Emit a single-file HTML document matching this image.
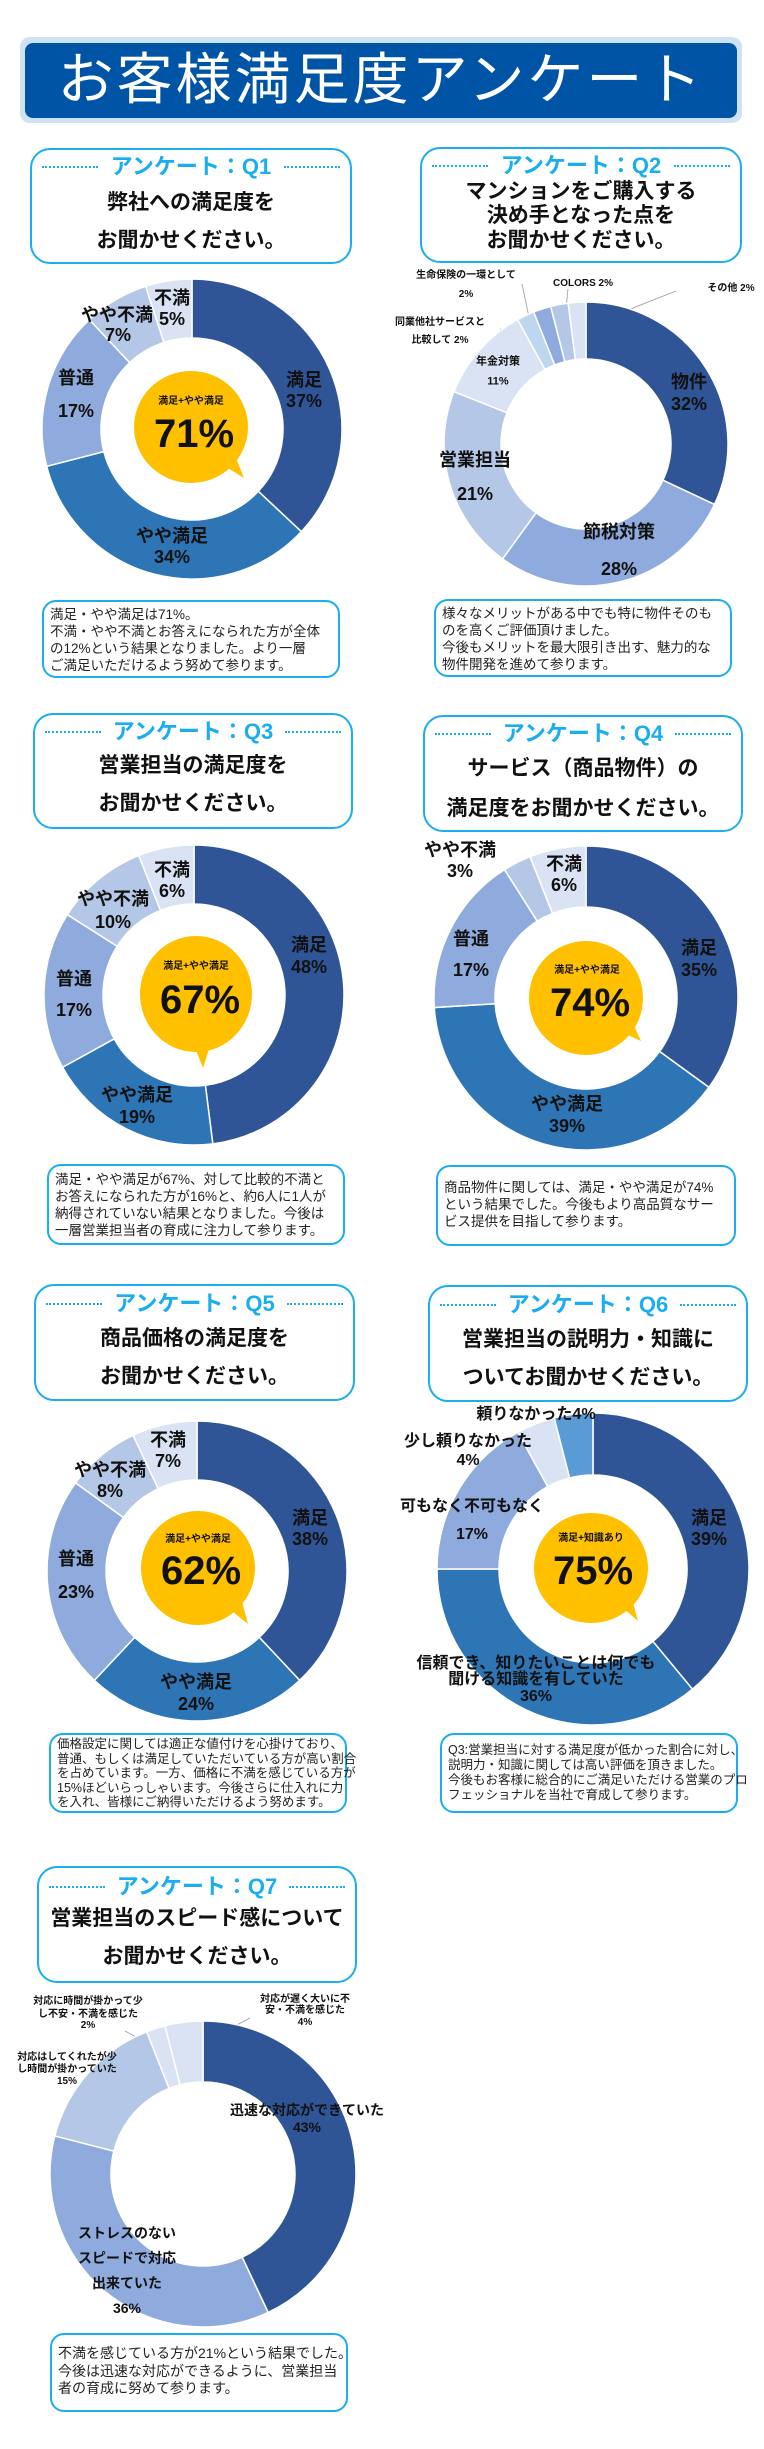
<!DOCTYPE html>
<html><head><meta charset="utf-8">
<style>
body{margin:0;background:#fff;}
#pg{position:relative;width:764px;height:2449px;overflow:hidden;background:#fff;font-family:"Liberation Sans","Noto Sans CJK JP",sans-serif;}
svg{position:absolute;left:0;top:0;}
.t{position:absolute;transform:translate(-50%,-50%);white-space:nowrap;font-weight:bold;color:#111;line-height:1;}
.box{position:absolute;border:2.5px solid #1aaef0;border-radius:20px;box-sizing:border-box;background:#fff;}
.cbox{position:absolute;border:2.5px solid #1aaef0;border-radius:14px;box-sizing:border-box;background:#fff;font-size:13.5px;line-height:17px;color:#222;padding:4px 0 0 6px;white-space:nowrap;}
.qh{position:absolute;left:0;right:0;text-align:center;color:#1aaef0;font-weight:bold;font-size:22px;line-height:1;}
.qt{position:absolute;left:0;right:0;text-align:center;font-weight:bold;font-size:21px;line-height:1;color:#111;}
.dot{position:absolute;border-top:2.5px dotted #1aaef0;width:56px;}
.big{font-size:40px;}
.sm{font-size:10px;}
.l{font-size:18px;}
</style></head><body><div id="pg">
<svg id="sv" width="764" height="2449" xmlns="http://www.w3.org/2000/svg">
<rect x="20" y="37" width="722" height="86" rx="10" fill="#cfe2f3"/>
<rect x="25" y="43" width="712" height="75" rx="8" fill="#0054a6"/>
<g stroke="#999" stroke-width="0.8" fill="none">
<line x1="522" y1="284" x2="533" y2="336"/>
<line x1="568" y1="289" x2="563" y2="338"/>
<line x1="676" y1="291" x2="580" y2="329"/>
<line x1="500" y1="329" x2="535" y2="340"/>
<line x1="578" y1="1414" x2="583" y2="1451"/>
<line x1="490" y1="1457" x2="513" y2="1452"/>
<line x1="513" y1="1452" x2="555" y2="1461"/>
<line x1="250" y1="2018" x2="190" y2="2050"/>
<line x1="125" y1="2031" x2="160" y2="2050"/>
</g>
</svg>
<div class="t" style="left:381px;top:80px;font-size:56px;color:#fff;font-weight:normal;letter-spacing:3px;">お客様満足度アンケート</div>

<!-- Q1 -->
<div class="box" style="left:30px;top:148px;width:322px;height:116px;">
<div class="dot" style="left:10px;top:16px;"></div><div class="dot" style="right:10px;top:16px;"></div>
<div class="qh" style="top:6px;">アンケート：Q1</div>
<div class="qt" style="top:42px;">弊社への満足度を</div>
<div class="qt" style="top:80px;">お聞かせください。</div></div>
<!-- Q2 -->
<div class="box" style="left:420px;top:147px;width:322px;height:116px;">
<div class="dot" style="left:10px;top:16px;"></div><div class="dot" style="right:10px;top:16px;"></div>
<div class="qh" style="top:6px;">アンケート：Q2</div>
<div class="qt" style="top:32px;">マンションをご購入する</div>
<div class="qt" style="top:56px;">決め手となった点を</div>
<div class="qt" style="top:81px;">お聞かせください。</div></div>

<div class="t l" style="left:304px;top:380px">満足</div><div class="t l" style="left:304px;top:401px">37%</div>
<div class="t l" style="left:172px;top:536px">やや満足</div><div class="t l" style="left:172px;top:557px">34%</div>
<div class="t l" style="left:76px;top:378px">普通</div><div class="t l" style="left:76px;top:411px">17%</div>
<div class="t l" style="left:117px;top:315px">やや不満</div><div class="t l" style="left:118px;top:335px">7%</div>
<div class="t l" style="left:172px;top:298px">不満</div><div class="t l" style="left:172px;top:319px">5%</div>
<div class="t sm" style="left:191px;top:402px">満足+やや満足</div><div class="t big" style="left:194px;top:434px">71%</div>

<div class="t l" style="left:689px;top:382px">物件</div><div class="t l" style="left:689px;top:404px">32%</div>
<div class="t l" style="left:619px;top:532px">節税対策</div><div class="t l" style="left:619px;top:569px">28%</div>
<div class="t l" style="left:475px;top:460px">営業担当</div><div class="t l" style="left:475px;top:494px">21%</div>
<div class="t" style="left:498px;top:362px;font-size:11px">年金対策</div><div class="t" style="left:498px;top:382px;font-size:11px">11%</div>
<div class="t sm" style="left:440px;top:323px">同業他社サービスと</div><div class="t sm" style="left:440px;top:341px">比較して 2%</div>
<div class="t sm" style="left:466px;top:276px">生命保険の一環として</div><div class="t sm" style="left:466px;top:295px">2%</div>
<div class="t sm" style="left:583px;top:284px">COLORS 2%</div>
<div class="t sm" style="left:731px;top:289px">その他 2%</div>

<div class="cbox" style="left:42px;top:600px;width:298px;height:78px;">満足・やや満足は71%。<br>不満・やや不満とお答えになられた方が全体<br>の12%という結果となりました。より一層<br>ご満足いただけるよう努めて参ります。</div>
<div class="cbox" style="left:434px;top:599px;width:298px;height:78px;">様々なメリットがある中でも特に物件そのも<br>のを高くご評価頂けました。<br>今後もメリットを最大限引き出す、魅力的な<br>物件開発を進めて参ります。</div>

<!-- Q3 -->
<div class="box" style="left:33px;top:713px;width:320px;height:116px;">
<div class="dot" style="left:10px;top:16px;"></div><div class="dot" style="right:10px;top:16px;"></div>
<div class="qh" style="top:6px;">アンケート：Q3</div>
<div class="qt" style="top:40px;">営業担当の満足度を</div>
<div class="qt" style="top:78px;">お聞かせください。</div></div>
<div class="box" style="left:423px;top:715px;width:320px;height:117px;">
<div class="dot" style="left:10px;top:16px;"></div><div class="dot" style="right:10px;top:16px;"></div>
<div class="qh" style="top:6px;">アンケート：Q4</div>
<div class="qt" style="top:41px;">サービス（商品物件）の</div>
<div class="qt" style="top:81px;">満足度をお聞かせください。</div></div>

<div class="t l" style="left:309px;top:945px">満足</div><div class="t l" style="left:309px;top:967px">48%</div>
<div class="t l" style="left:137px;top:1095px">やや満足</div><div class="t l" style="left:137px;top:1117px">19%</div>
<div class="t l" style="left:74px;top:979px">普通</div><div class="t l" style="left:74px;top:1010px">17%</div>
<div class="t l" style="left:113px;top:899px">やや不満</div><div class="t l" style="left:113px;top:922px">10%</div>
<div class="t l" style="left:172px;top:870px">不満</div><div class="t l" style="left:172px;top:891px">6%</div>
<div class="t sm" style="left:196px;top:967px">満足+やや満足</div><div class="t big" style="left:200px;top:1000px">67%</div>

<div class="t l" style="left:460px;top:850px">やや不満</div><div class="t l" style="left:460px;top:871px">3%</div>
<div class="t l" style="left:564px;top:864px">不満</div><div class="t l" style="left:564px;top:885px">6%</div>
<div class="t l" style="left:471px;top:939px">普通</div><div class="t l" style="left:471px;top:970px">17%</div>
<div class="t l" style="left:699px;top:948px">満足</div><div class="t l" style="left:699px;top:970px">35%</div>
<div class="t l" style="left:567px;top:1104px">やや満足</div><div class="t l" style="left:567px;top:1126px">39%</div>
<div class="t sm" style="left:587px;top:971px">満足+やや満足</div><div class="t big" style="left:590px;top:1003px">74%</div>

<div class="cbox" style="left:47px;top:1164px;width:298px;height:81px;padding-top:5px;">満足・やや満足が67%、対して比較的不満と<br>お答えになられた方が16%と、約6人に1人が<br>納得されていない結果となりました。今後は<br>一層営業担当者の育成に注力して参ります。</div>
<div class="cbox" style="left:436px;top:1165px;width:300px;height:81px;padding-top:12px;">商品物件に関しては、満足・やや満足が74%<br>という結果でした。今後もより高品質なサー<br>ビス提供を目指して参ります。</div>

<!-- Q5 -->
<div class="box" style="left:34px;top:1284px;width:321px;height:117px;">
<div class="dot" style="left:10px;top:17px;"></div><div class="dot" style="right:10px;top:17px;"></div>
<div class="qh" style="top:7px;">アンケート：Q5</div>
<div class="qt" style="top:42px;">商品価格の満足度を</div>
<div class="qt" style="top:80px;">お聞かせください。</div></div>
<div class="box" style="left:428px;top:1285px;width:320px;height:117px;">
<div class="dot" style="left:10px;top:17px;"></div><div class="dot" style="right:10px;top:17px;"></div>
<div class="qh" style="top:7px;">アンケート：Q6</div>
<div class="qt" style="top:42px;">営業担当の説明力・知識に</div>
<div class="qt" style="top:80px;">ついてお聞かせください。</div></div>

<div class="t l" style="left:310px;top:1518px">満足</div><div class="t l" style="left:310px;top:1539px">38%</div>
<div class="t l" style="left:196px;top:1682px">やや満足</div><div class="t l" style="left:196px;top:1704px">24%</div>
<div class="t l" style="left:76px;top:1559px">普通</div><div class="t l" style="left:76px;top:1592px">23%</div>
<div class="t l" style="left:110px;top:1470px">やや不満</div><div class="t l" style="left:110px;top:1491px">8%</div>
<div class="t l" style="left:168px;top:1440px">不満</div><div class="t l" style="left:168px;top:1461px">7%</div>
<div class="t sm" style="left:198px;top:1540px">満足+やや満足</div><div class="t big" style="left:201px;top:1571px">62%</div>

<div class="t" style="left:536px;top:1415px;font-size:16px">頼りなかった4%</div>
<div class="t" style="left:468px;top:1442px;font-size:16px">少し頼りなかった</div><div class="t" style="left:468px;top:1461px;font-size:16px">4%</div>
<div class="t" style="left:472px;top:1507px;font-size:16px">可もなく不可もなく</div><div class="t" style="left:472px;top:1535px;font-size:16px">17%</div>
<div class="t l" style="left:709px;top:1518px">満足</div><div class="t l" style="left:709px;top:1539px">39%</div>
<div class="t" style="left:536px;top:1664px;font-size:16px">信頼でき、知りたいことは何でも</div>
<div class="t" style="left:536px;top:1680px;font-size:16px">聞ける知識を有していた</div>
<div class="t" style="left:536px;top:1697px;font-size:16px">36%</div>
<div class="t sm" style="left:591px;top:1539px">満足+知識あり</div><div class="t big" style="left:593px;top:1571px">75%</div>

<div class="cbox" style="left:49px;top:1733px;width:298px;height:80px;font-size:12.5px;line-height:14.5px;padding-top:2px;">価格設定に関しては適正な値付けを心掛けており、<br>普通、もしくは満足していただいている方が高い割合<br>を占めています。一方、価格に不満を感じている方が<br>15%ほどいらっしゃいます。今後さらに仕入れに力<br>を入れ、皆様にご納得いただけるよう努めます。</div>
<div class="cbox" style="left:440px;top:1733px;width:298px;height:80px;font-size:12.5px;line-height:15px;padding-top:8px;">Q3:営業担当に対する満足度が低かった割合に対し、<br>説明力・知識に関しては高い評価を頂きました。<br>今後もお客様に総合的にご満足いただける営業のプロ<br>フェッショナルを当社で育成して参ります。</div>

<!-- Q7 -->
<div class="box" style="left:37px;top:1866px;width:320px;height:117px;">
<div class="dot" style="left:10px;top:18px;"></div><div class="dot" style="right:10px;top:18px;"></div>
<div class="qh" style="top:8px;">アンケート：Q7</div>
<div class="qt" style="top:40px;">営業担当のスピード感について</div>
<div class="qt" style="top:78px;">お聞かせください。</div></div>

<div class="t" style="left:307px;top:2110px;font-size:14px">迅速な対応ができていた</div><div class="t" style="left:307px;top:2127px;font-size:14px">43%</div>
<div class="t" style="left:127px;top:2233px;font-size:14px">ストレスのない</div><div class="t" style="left:127px;top:2258px;font-size:14px">スピードで対応</div><div class="t" style="left:127px;top:2283px;font-size:14px">出来ていた</div><div class="t" style="left:127px;top:2308px;font-size:14px">36%</div>
<div class="t" style="left:67px;top:2058px;font-size:10px">対応はしてくれたが少</div><div class="t" style="left:67px;top:2070px;font-size:10px">し時間が掛かっていた</div><div class="t" style="left:67px;top:2082px;font-size:10px">15%</div>
<div class="t" style="left:88px;top:2002px;font-size:10px">対応に時間が掛かって少</div><div class="t" style="left:88px;top:2015px;font-size:10px">し不安・不満を感じた</div><div class="t" style="left:88px;top:2026px;font-size:10px">2%</div>
<div class="t" style="left:305px;top:2000px;font-size:10px">対応が遅く大いに不</div><div class="t" style="left:305px;top:2011px;font-size:10px">安・不満を感じた</div><div class="t" style="left:305px;top:2023px;font-size:10px">4%</div>

<div class="cbox" style="left:50px;top:2333px;width:298px;height:79px;font-size:14px;line-height:17.5px;padding-top:10px;">不満を感じている方が21%という結果でした。<br>今後は迅速な対応ができるように、営業担当<br>者の育成に努めて参ります。</div>
</div>
<script>
var sv=document.getElementById('sv'),NS='http://www.w3.org/2000/svg';
function el(t,a){var e=document.createElementNS(NS,t);for(var k in a)e.setAttribute(k,a[k]);sv.appendChild(e);return e;}
var C1='#2f5597',C2='#2e75b6',C3='#8faadc',C4='#b4c7e7',C5='#dae3f3';
function donut(cx,cy,r,ir,vals,cols){
 var a=0;
 function P(ang,s){return [cx+s*Math.sin(ang),cy-s*Math.cos(ang)];}
 for(var i=0;i<vals.length;i++){
  var a0=a*2*Math.PI/100;a+=vals[i];var a1=a*2*Math.PI/100;
  var L=(a1-a0)>Math.PI?1:0;
  var p0=P(a0,r),p1=P(a1,r),q1=P(a1,ir),q0=P(a0,ir);
  var d='M'+p0+' A'+r+' '+r+' 0 '+L+' 1 '+p1+' L'+q1+' A'+ir+' '+ir+' 0 '+L+' 0 '+q0+' Z';
  el('path',{d:d,fill:cols[i],stroke:'#fff','stroke-width':1.5});
 }
}
function bub(cx,cy,rx,ry,tail){
 el('polygon',{points:tail,fill:'#ffc000'});
 el('ellipse',{cx:cx,cy:cy,rx:rx,ry:ry,fill:'#ffc000'});
}
donut(192,429,150,91,[37,34,17,7,5],[C1,C2,C3,C4,C5]);
bub(191,427,57,56,'215,460 244,478 232,448');
donut(586,444,142,85,[32,28,21,11,2,2,2,2],[C1,C3,C4,C5,'#bdd7ee',C3,C4,C5]);
donut(194,995,150,91,[48,19,17,10,6],[C1,C2,C3,C4,C5]);
bub(196,994,56,58,'192,1040 203,1068 212,1040');
donut(586,998,152,91,[35,39,17,3,6],[C1,C2,C3,C4,C5]);
bub(586,998,57,57,'615,1029 641,1041 630,1017');
donut(197,1571,150,91,[38,24,23,8,7],[C1,C2,C3,C4,C5]);
bub(198,1568,57,57,'222,1603 248,1624 240,1594');
donut(593,1569,156,94,[39,36,17,4,4],[C1,C2,C3,C5,'#5b9bd5']);
bub(591,1568,57,55,'615,1601 638,1621 630,1592');
donut(203,2174,153,92,[43,36,15,2,4],[C1,C3,C4,C5,C5]);
</script>
</body></html>
